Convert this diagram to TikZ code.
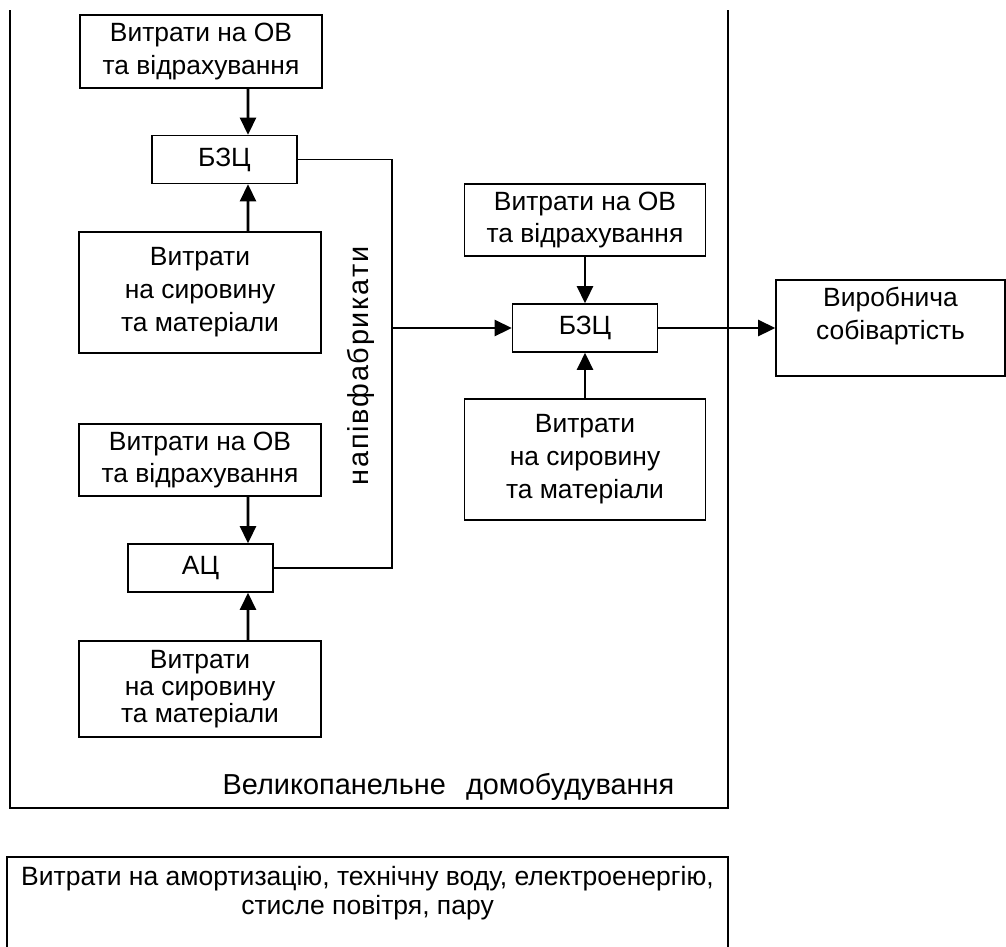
\documentclass[tikz,border=0pt]{standalone}
\usepackage{fontspec}
\setmainfont{Liberation Sans}
\usetikzlibrary{arrows.meta,positioning}
\tikzset{
  blk/.style ={rectangle, draw, line width=1.6bp, minimum width=242bp,
               inner sep=0pt, align=center, font=\fontsize{26.5}{33}\selectfont},
  sblk/.style={blk, minimum width=145bp, minimum height=48bp},
  ar/.style  ={-{Triangle[length=17bp,width=16bp]}, line width=2.6bp},
  ln/.style  ={line width=1.6bp}
}
\begin{document}
\begin{tikzpicture}[x=1bp,y=-1bp]
\useasboundingbox (0,0) rectangle (1006,947);
% left column
\node[blk, minimum height=73bp]  (ov1)  at (201,51.5) {Витрати на ОВ\\та відрахування};
\node[sblk]                      (bzc1) at (224.5,159.5) {БЗЦ};
\node[blk, minimum height=121bp] (mat1) at (200,292.5) {Витрати\\на сировину\\та матеріали};
\node[blk, minimum height=72bp]  (ov3)  at (200,460) {Витрати на ОВ\\та відрахування};
\node[sblk]                      (ac)   at (200.5,568) {АЦ};
\node[blk, minimum height=96bp, font=\fontsize{26.5}{27}\selectfont]
  (mat3) at (200,689) {Витрати\\на сировину\\та матеріали};
% right column
\node[blk, minimum width=241bp, minimum height=72bp]  (ov2)  at (585,220) {Витрати на ОВ\\та відрахування};
\node[sblk]                                           (bzc2) at (585,328) {БЗЦ};
\node[blk, minimum width=241bp, minimum height=121bp] (mat2) at (585,459.5) {Витрати\\на сировину\\та матеріали};
\node[blk, minimum width=229bp, minimum height=96bp, text depth=29bp]
  (cost) at (890.5,328) {Виробнича\\собівартість};
\coordinate (bus) at (392,328);
\draw[ar] ([xshift=47bp]ov1.south) -- ([xshift=23.5bp]bzc1.north);
\draw[ar] ([xshift=48bp]mat1.north) -- ([xshift=23.5bp]bzc1.south);
\draw[ar] ([xshift=48bp]ov3.south) -- ([xshift=47.5bp]ac.north);
\draw[ar] ([xshift=48bp]mat3.north) -- ([xshift=47.5bp]ac.south);
\draw[ln] (bzc1.east) -| (bus) |- (ac.east);
\node[rotate=90, font=\fontsize{29}{32}\selectfont\addfontfeature{LetterSpace=6}]
  (semi) at (361,366) {напівфабрикати};
\draw[ar] (bus) -- (bzc2.west);
\draw[ar] (ov2) -- (bzc2);
\draw[ar] (mat2) -- (bzc2);
\draw[ar] (bzc2) -- (cost);
% frame and bottom box
\draw[ln] (10,10) -- (10,808) -- (728,808) -- (728,10);
\node[font=\fontsize{29}{32}\selectfont] (shop) at (448.5,787)
  {Великопанельне\hspace{0.7em}домобудування};
\node[blk, anchor=north, minimum width=721bp, inner ysep=9bp, text depth=120bp,
  font=\fontsize{26.6}{30}\selectfont] (misc) at (367.5,856)
  {Витрати на амортизацію, технічну воду, електроенергію,\\стисле повітря, пару};
\end{tikzpicture}
\end{document}
